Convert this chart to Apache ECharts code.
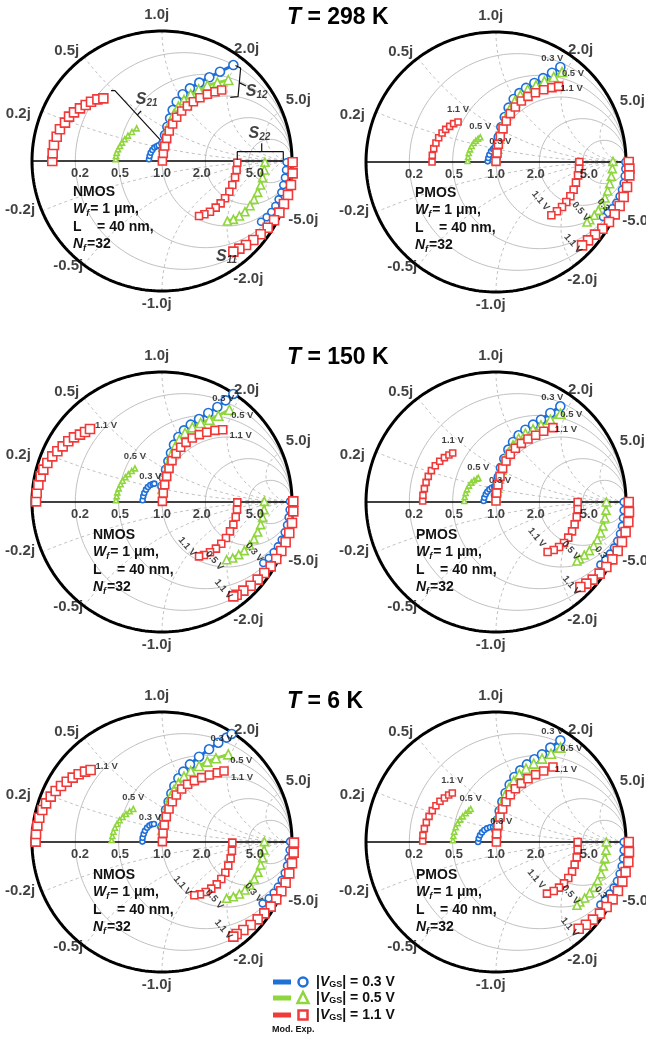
<!DOCTYPE html>
<html><head><meta charset="utf-8">
<script src="https://cdn.jsdelivr.net/npm/echarts@6/dist/echarts.min.js"></script>
<style>html,body{margin:0;padding:0;background:#fff}#c{width:646px;height:1041px}</style>
</head><body><div id="c"></div>
<script>
// ---------- DATA (reflection-plane coordinates [Re, Im]) ----------
const TEMPS = ['298', '150', '6'];
const VGS = ['0.3', '0.5', '1.1'];
const RES_TICKS = [0.2, 0.5, 1.0, 2.0, 5.0];
const REACT_TICKS = ['1.0j', '2.0j', '5.0j', '0.5j', '0.2j', '-0.2j', '-0.5j', '-1.0j', '-2.0j', '-5.0j'];

// NMOS 298 K
const N298_S21_11 = [[-0.844,0],[-0.841,0.059],[-0.831,0.123],[-0.810,0.187],[-0.785,0.244],[-0.746,0.295],[-0.715,0.341],[-0.677,0.374],[-0.631,0.405],[-0.587,0.431],[-0.546,0.456],[-0.497,0.474],[-0.451,0.482]];
const N298_S21_05 = [[-0.356,0.013],[-0.354,0.038],[-0.349,0.064],[-0.338,0.090],[-0.323,0.115],[-0.308,0.141],[-0.287,0.167],[-0.262,0.195],[-0.231,0.223],[-0.195,0.251]];
const N298_S21_03 = [[-0.100,0.013],[-0.095,0.038],[-0.087,0.064],[-0.074,0.085],[-0.059,0.103],[-0.041,0.113],[-0.026,0.121]];
const N298_S12_03 = [[0.010,0.136],[0.023,0.200],[0.041,0.264],[0.062,0.328],[0.082,0.392],[0.113,0.456],[0.159,0.513],[0.215,0.559],[0.287,0.603],[0.364,0.644],[0.446,0.687],[0.549,0.738]];
const N298_S12_05 = [[0.010,0.110],[0.026,0.174],[0.044,0.238],[0.067,0.303],[0.092,0.362],[0.126,0.418],[0.169,0.469],[0.221,0.513],[0.282,0.551],[0.349,0.582],[0.426,0.603],[0.510,0.623]];
const N298_S12_11 = [[0.003,0],[0.010,0.059],[0.021,0.115],[0.036,0.174],[0.056,0.231],[0.082,0.285],[0.113,0.336],[0.151,0.385],[0.195,0.423],[0.241,0.456],[0.292,0.487],[0.349,0.513],[0.408,0.533],[0.459,0.546]];
const N298_S22_11 = [[0.579,-0.013],[0.574,-0.069],[0.562,-0.126],[0.541,-0.185],[0.518,-0.236],[0.485,-0.287],[0.451,-0.326],[0.413,-0.359],[0.369,-0.390],[0.326,-0.410],[0.285,-0.423]];
const N298_S22_05 = [[0.792,-0.010],[0.787,-0.069],[0.774,-0.128],[0.759,-0.185],[0.736,-0.241],[0.708,-0.295],[0.677,-0.344],[0.638,-0.390],[0.595,-0.423],[0.549,-0.449],[0.503,-0.462]];
const N298_S22_03 = [[0.959,-0.010],[0.954,-0.069],[0.946,-0.128],[0.933,-0.185],[0.918,-0.241],[0.897,-0.295],[0.872,-0.346],[0.841,-0.392],[0.805,-0.433],[0.762,-0.467]];
const N298_S11_11 = [[1.005,-0.010],[1.005,-0.095],[0.992,-0.185],[0.969,-0.262],[0.938,-0.331],[0.903,-0.397],[0.862,-0.456],[0.813,-0.513],[0.759,-0.564],[0.703,-0.608],[0.646,-0.646],[0.595,-0.674],[0.549,-0.697]];

// PMOS 298 K
const P298_S21_11 = [[-0.492,0],[-0.490,0.051],[-0.479,0.103],[-0.462,0.146],[-0.441,0.187],[-0.415,0.223],[-0.387,0.251],[-0.356,0.274],[-0.326,0.295],[-0.292,0.308]];
const P298_S21_05 = [[-0.218,0.008],[-0.215,0.038],[-0.210,0.069],[-0.200,0.097],[-0.187,0.123],[-0.172,0.146],[-0.156,0.164],[-0.138,0.179],[-0.121,0.190]];
const P298_S21_03 = [[-0.064,0.005],[-0.059,0.031],[-0.051,0.056],[-0.038,0.082],[-0.023,0.100],[-0.013,0.110]];
const P298_S12_03 = [[0,0.038],[0.008,0.115],[0.021,0.192],[0.041,0.269],[0.067,0.346],[0.097,0.418],[0.136,0.485],[0.180,0.530],[0.231,0.570],[0.295,0.608],[0.362,0.645],[0.431,0.687],[0.495,0.731]];
const P298_S12_05 = [[0,0.026],[0.010,0.103],[0.026,0.179],[0.046,0.256],[0.074,0.333],[0.105,0.403],[0.144,0.467],[0.187,0.513],[0.244,0.556],[0.308,0.590],[0.372,0.621],[0.444,0.654],[0.508,0.692]];
const P298_S12_11 = [[0,0.005],[0.008,0.069],[0.018,0.136],[0.033,0.197],[0.054,0.256],[0.079,0.315],[0.110,0.372],[0.149,0.423],[0.195,0.469],[0.246,0.505],[0.303,0.533],[0.367,0.556],[0.431,0.572],[0.482,0.582]];
const P298_S22_11 = [[0.641,0],[0.638,-0.051],[0.631,-0.103],[0.615,-0.159],[0.597,-0.213],[0.572,-0.264],[0.541,-0.308],[0.508,-0.346],[0.469,-0.379],[0.426,-0.410]];
const P298_S22_05 = [[0.900,0.005],[0.895,-0.051],[0.887,-0.110],[0.874,-0.167],[0.859,-0.223],[0.838,-0.277],[0.815,-0.326],[0.787,-0.372],[0.756,-0.410],[0.721,-0.444],[0.700,-0.462]];
const P298_S22_03 = [[0.995,0],[0.995,-0.051],[0.990,-0.108],[0.982,-0.162],[0.969,-0.213],[0.951,-0.264],[0.926,-0.313],[0.895,-0.356],[0.859,-0.392],[0.823,-0.423]];
const P298_S11_11 = [[1.021,0],[1.026,-0.051],[1.026,-0.103],[1.008,-0.192],[0.982,-0.269],[0.951,-0.338],[0.913,-0.403],[0.869,-0.462],[0.818,-0.513],[0.762,-0.559],[0.708,-0.603],[0.662,-0.641]];

// NMOS 150 K
const N150_S21_11 = [[-0.969,0.005],[-0.964,0.069],[-0.951,0.133],[-0.933,0.197],[-0.913,0.249],[-0.882,0.300],[-0.844,0.351],[-0.805,0.390],[-0.764,0.428],[-0.721,0.467],[-0.677,0.497],[-0.631,0.518],[-0.592,0.538],[-0.554,0.562]];
const N150_S21_05 = [[-0.354,0.013],[-0.349,0.044],[-0.344,0.074],[-0.333,0.105],[-0.318,0.136],[-0.303,0.164],[-0.282,0.190],[-0.259,0.213],[-0.233,0.238],[-0.208,0.259]];
const N150_S21_03 = [[-0.149,0.013],[-0.144,0.044],[-0.136,0.069],[-0.123,0.095],[-0.108,0.115],[-0.090,0.131],[-0.072,0.138],[-0.059,0.141]];
const N150_S12_03 = [[0.003,0.121],[0.015,0.185],[0.031,0.249],[0.049,0.313],[0.069,0.377],[0.092,0.441],[0.126,0.500],[0.169,0.551],[0.221,0.595],[0.285,0.638],[0.356,0.685],[0.426,0.731],[0.490,0.782],[0.549,0.831]];
const N150_S12_05 = [[0.003,0.100],[0.015,0.167],[0.031,0.233],[0.049,0.300],[0.072,0.364],[0.100,0.423],[0.133,0.479],[0.177,0.531],[0.233,0.574],[0.297,0.608],[0.364,0.633],[0.433,0.664],[0.518,0.710]];
const N150_S12_11 = [[0.003,0.005],[0.010,0.069],[0.021,0.133],[0.036,0.197],[0.054,0.259],[0.077,0.318],[0.108,0.372],[0.144,0.421],[0.185,0.459],[0.233,0.492],[0.287,0.518],[0.344,0.536],[0.408,0.551],[0.467,0.556]];
const N150_S22_11 = [[0.579,-0.003],[0.577,-0.059],[0.567,-0.115],[0.549,-0.174],[0.523,-0.226],[0.492,-0.277],[0.456,-0.321],[0.415,-0.359],[0.369,-0.387],[0.323,-0.408],[0.285,-0.418]];
const N150_S22_05 = [[0.787,0.005],[0.785,-0.059],[0.774,-0.118],[0.759,-0.174],[0.736,-0.231],[0.708,-0.285],[0.674,-0.333],[0.633,-0.374],[0.590,-0.405],[0.544,-0.431],[0.497,-0.444]];
const N150_S22_03 = [[0.985,0.005],[0.982,-0.059],[0.974,-0.118],[0.962,-0.177],[0.944,-0.233],[0.921,-0.290],[0.892,-0.341],[0.859,-0.387],[0.821,-0.431],[0.779,-0.469]];
const N150_S11_11 = [[1.010,0.005],[1.010,-0.072],[1.0,-0.162],[0.979,-0.238],[0.951,-0.310],[0.918,-0.377],[0.879,-0.438],[0.836,-0.495],[0.787,-0.546],[0.736,-0.597],[0.682,-0.644],[0.626,-0.682],[0.574,-0.713],[0.549,-0.726]];

// PMOS 150 K
const P150_S21_11 = [[-0.564,0.008],[-0.562,0.051],[-0.551,0.103],[-0.538,0.151],[-0.521,0.197],[-0.497,0.241],[-0.467,0.279],[-0.433,0.313],[-0.397,0.341],[-0.362,0.362],[-0.333,0.377]];
const P150_S21_05 = [[-0.244,0.008],[-0.241,0.038],[-0.233,0.069],[-0.223,0.097],[-0.208,0.126],[-0.190,0.149],[-0.169,0.167],[-0.146,0.179],[-0.136,0.185]];
const P150_S21_03 = [[-0.095,0.008],[-0.090,0.033],[-0.079,0.059],[-0.067,0.079],[-0.051,0.097],[-0.033,0.110],[-0.015,0.118]];
const P150_S12_03 = [[0,0.051],[0.008,0.121],[0.021,0.192],[0.038,0.264],[0.064,0.333],[0.095,0.403],[0.131,0.462],[0.174,0.513],[0.226,0.556],[0.285,0.595],[0.346,0.633],[0.418,0.685],[0.495,0.736]];
const P150_S12_05 = [[0,0.038],[0.010,0.110],[0.023,0.179],[0.041,0.249],[0.064,0.315],[0.095,0.379],[0.131,0.436],[0.174,0.487],[0.226,0.526],[0.285,0.559],[0.346,0.590],[0.418,0.633],[0.495,0.679]];
const P150_S12_11 = [[0,0.008],[0.005,0.069],[0.015,0.133],[0.031,0.197],[0.051,0.259],[0.077,0.315],[0.110,0.367],[0.149,0.413],[0.195,0.451],[0.246,0.485],[0.305,0.513],[0.367,0.544],[0.438,0.572]];
const P150_S22_11 = [[0.628,0],[0.628,-0.056],[0.621,-0.115],[0.605,-0.172],[0.585,-0.226],[0.556,-0.274],[0.523,-0.315],[0.485,-0.346],[0.444,-0.369],[0.397,-0.385]];
const P150_S22_05 = [[0.849,0],[0.846,-0.064],[0.838,-0.123],[0.823,-0.185],[0.805,-0.238],[0.779,-0.290],[0.751,-0.336],[0.718,-0.374],[0.679,-0.408],[0.641,-0.436],[0.623,-0.454]];
const P150_S22_03 = [[0.982,0],[0.982,-0.064],[0.977,-0.123],[0.969,-0.185],[0.954,-0.244],[0.933,-0.300],[0.908,-0.351],[0.877,-0.397],[0.841,-0.444],[0.803,-0.482]];
const P150_S11_11 = [[1.021,0],[1.023,-0.077],[1.018,-0.154],[0.997,-0.231],[0.969,-0.308],[0.936,-0.377],[0.895,-0.441],[0.849,-0.500],[0.797,-0.551],[0.744,-0.597],[0.695,-0.628],[0.649,-0.654]];

// NMOS 6 K
const N6_S21_11 = [[-0.972,0.003],[-0.969,0.062],[-0.959,0.126],[-0.944,0.187],[-0.921,0.246],[-0.892,0.297],[-0.856,0.349],[-0.818,0.392],[-0.777,0.431],[-0.733,0.464],[-0.687,0.495],[-0.641,0.521],[-0.592,0.541],[-0.549,0.554]];
const N6_S21_05 = [[-0.387,0.015],[-0.382,0.046],[-0.374,0.079],[-0.362,0.110],[-0.346,0.138],[-0.326,0.167],[-0.303,0.192],[-0.277,0.215],[-0.249,0.236],[-0.221,0.254]];
const N6_S21_03 = [[-0.151,0.003],[-0.149,0.033],[-0.141,0.062],[-0.131,0.087],[-0.115,0.110],[-0.097,0.126],[-0.079,0.136],[-0.062,0.138]];
const N6_S12_03 = [[0.003,0.118],[0.015,0.182],[0.031,0.246],[0.051,0.310],[0.072,0.374],[0.095,0.431],[0.126,0.490],[0.164,0.541],[0.215,0.597],[0.285,0.656],[0.362,0.713],[0.433,0.764],[0.497,0.803],[0.536,0.831]];
const N6_S12_05 = [[0.003,0.092],[0.013,0.156],[0.026,0.221],[0.044,0.285],[0.064,0.344],[0.092,0.400],[0.126,0.451],[0.169,0.503],[0.221,0.546],[0.285,0.585],[0.349,0.618],[0.415,0.644],[0.510,0.674]];
const N6_S12_11 = [[0.003,0.003],[0.008,0.067],[0.018,0.131],[0.033,0.195],[0.054,0.254],[0.079,0.310],[0.110,0.362],[0.151,0.408],[0.197,0.444],[0.249,0.472],[0.305,0.495],[0.364,0.515],[0.426,0.533],[0.477,0.546]];
const N6_S22_11 = [[0.541,-0.005],[0.538,-0.067],[0.528,-0.126],[0.510,-0.182],[0.487,-0.236],[0.456,-0.285],[0.421,-0.326],[0.379,-0.359],[0.336,-0.385],[0.292,-0.403],[0.249,-0.410]];
const N6_S22_05 = [[0.787,0.003],[0.785,-0.062],[0.774,-0.121],[0.759,-0.177],[0.738,-0.233],[0.710,-0.285],[0.677,-0.331],[0.638,-0.369],[0.595,-0.400],[0.549,-0.421],[0.497,-0.433]];
const N6_S22_03 = [[0.985,0.003],[0.982,-0.062],[0.974,-0.123],[0.962,-0.182],[0.944,-0.238],[0.921,-0.292],[0.892,-0.344],[0.859,-0.390],[0.821,-0.433],[0.774,-0.472]];
const N6_S11_11 = [[1.015,-0.005],[1.013,-0.082],[1.0,-0.164],[0.979,-0.241],[0.951,-0.313],[0.918,-0.379],[0.879,-0.441],[0.836,-0.497],[0.787,-0.549],[0.736,-0.595],[0.682,-0.638],[0.626,-0.677],[0.574,-0.708],[0.549,-0.728]];

// PMOS 6 K
const P6_S21_11 = [[-0.564,0.008],[-0.562,0.051],[-0.551,0.103],[-0.536,0.151],[-0.515,0.197],[-0.490,0.241],[-0.462,0.279],[-0.431,0.313],[-0.397,0.338],[-0.364,0.362],[-0.336,0.377]];
const P6_S21_05 = [[-0.331,0.013],[-0.328,0.046],[-0.321,0.079],[-0.310,0.113],[-0.295,0.144],[-0.277,0.172],[-0.256,0.197],[-0.233,0.221],[-0.210,0.241],[-0.195,0.254]];
const P6_S21_03 = [[-0.138,0],[-0.133,0.026],[-0.123,0.051],[-0.108,0.074],[-0.090,0.092],[-0.069,0.105],[-0.046,0.113],[-0.023,0.115],[-0.005,0.115]];
const P6_S12_03 = [[0.003,0.090],[0.013,0.167],[0.028,0.238],[0.049,0.310],[0.074,0.377],[0.105,0.441],[0.141,0.500],[0.187,0.551],[0.238,0.597],[0.295,0.636],[0.354,0.674],[0.418,0.726],[0.495,0.782]];
const P6_S12_05 = [[0.003,0.077],[0.013,0.146],[0.026,0.218],[0.044,0.287],[0.069,0.354],[0.100,0.415],[0.136,0.469],[0.179,0.521],[0.231,0.564],[0.290,0.603],[0.354,0.641],[0.423,0.679],[0.495,0.726]];
const P6_S12_11 = [[0.003,0],[0.005,0.064],[0.015,0.128],[0.031,0.192],[0.051,0.254],[0.077,0.310],[0.110,0.364],[0.149,0.410],[0.195,0.451],[0.246,0.487],[0.305,0.518],[0.367,0.546],[0.438,0.577]];
const P6_S22_11 = [[0.628,0],[0.628,-0.059],[0.621,-0.118],[0.605,-0.174],[0.585,-0.228],[0.556,-0.277],[0.523,-0.318],[0.485,-0.351],[0.444,-0.377],[0.392,-0.397]];
const P6_S22_05 = [[0.849,0],[0.846,-0.064],[0.838,-0.126],[0.826,-0.185],[0.808,-0.244],[0.782,-0.297],[0.754,-0.349],[0.721,-0.392],[0.682,-0.431],[0.644,-0.462],[0.623,-0.487]];
const P6_S22_03 = [[0.982,0],[0.982,-0.064],[0.977,-0.126],[0.967,-0.185],[0.951,-0.244],[0.931,-0.300],[0.905,-0.351],[0.874,-0.397],[0.838,-0.444],[0.803,-0.482]];
const P6_S11_11 = [[1.021,0],[1.023,-0.077],[1.018,-0.154],[0.997,-0.231],[0.972,-0.305],[0.938,-0.377],[0.897,-0.441],[0.851,-0.500],[0.800,-0.551],[0.746,-0.597],[0.692,-0.636],[0.636,-0.667]];

// ---------- LAYOUT / STYLE ----------
const FONT = '"Liberation Sans", Arial, Helvetica, sans-serif';
const BLUE = '#1f6fd8', GREEN = '#8fd63c', RED = '#f03a3a', GRAY = '#b8b8b8';
const R = 130;
const VS = [
  {color: BLUE, symbol: 'circle'},
  {color: GREEN, symbol: 'triangle'},
  {color: RED, symbol: 'rect'}
];
const PANELS = [
  {dev:'NMOS', t:0, cx:162, cy:161, txt:[73,183], labels:false,
   d:{S21:[N298_S21_03,N298_S21_05,N298_S21_11], S12:[N298_S12_03,N298_S12_05,N298_S12_11], S22:[N298_S22_03,N298_S22_05,N298_S22_11], S11:[null,null,N298_S11_11]}},
  {dev:'PMOS', t:0, cx:496, cy:162, txt:[415,184], labels:true,
   d:{S21:[P298_S21_03,P298_S21_05,P298_S21_11], S12:[P298_S12_03,P298_S12_05,P298_S12_11], S22:[P298_S22_03,P298_S22_05,P298_S22_11], S11:[null,null,P298_S11_11]}},
  {dev:'NMOS', t:1, cx:162, cy:502, txt:[93,526], labels:true,
   d:{S21:[N150_S21_03,N150_S21_05,N150_S21_11], S12:[N150_S12_03,N150_S12_05,N150_S12_11], S22:[N150_S22_03,N150_S22_05,N150_S22_11], S11:[null,null,N150_S11_11]}},
  {dev:'PMOS', t:1, cx:496, cy:502, txt:[416,526], labels:true,
   d:{S21:[P150_S21_03,P150_S21_05,P150_S21_11], S12:[P150_S12_03,P150_S12_05,P150_S12_11], S22:[P150_S22_03,P150_S22_05,P150_S22_11], S11:[null,null,P150_S11_11]}},
  {dev:'NMOS', t:2, cx:162, cy:842, txt:[93,866], labels:true,
   d:{S21:[N6_S21_03,N6_S21_05,N6_S21_11], S12:[N6_S12_03,N6_S12_05,N6_S12_11], S22:[N6_S22_03,N6_S22_05,N6_S22_11], S11:[null,null,N6_S11_11]}},
  {dev:'PMOS', t:2, cx:496, cy:842, txt:[416,866], labels:true,
   d:{S21:[P6_S21_03,P6_S21_05,P6_S21_11], S12:[P6_S12_03,P6_S12_05,P6_S12_11], S22:[P6_S22_03,P6_S22_05,P6_S22_11], S11:[null,null,P6_S11_11]}}
];
// label offsets [dx, dy, rotate] per device / S-param / Vgs index
const LBL = {
  PMOS: {S21:[[6,-6,0],[0,-11,0],[0,-13,0]], S12:[[-8,-9,0],[11,1,0],[13,2,0]], S22:[[-9,-8,-50],[-12,-2,-50],[-18,-1,-50]], S11:[null,null,[-7,6,-50]]},
  NMOS: {S21:[[-4,-7,0],[0,-12,0],[16,-4,0]], S12:[[-10,4,0],[13,6,0],[18,6,0]], S22:[[-14,0,-50],[-7,10,-50],[-15,3,-50]], S11:[null,null,[-12,3,-50]]}
};
const SIZES = {S21:[5,5,9], S12:[9,9,8], S22:[7,8,7], S11:[null,null,9]};
const RIM_POS = [[-0.041,1.121],[0.651,0.864],[1.049,0.467],[-0.733,0.851],[-1.105,0.364],[-1.092,-0.379],[-0.721,-0.803],[-0.041,-1.097],[0.664,-0.905],[1.087,-0.456]];
const RES_NUDGE = [4.7, 1.3, 0, -3.6, 6.2];

// ---------- Smith grid geometry ----------
function rCircle(r){ const c=r/(1+r), rad=1/(1+r), p=[]; for(let i=0;i<=240;i++){const t=i/240*2*Math.PI; p.push([c+rad*Math.cos(t), rad*Math.sin(t)]);} return p; }
function xArc(x){ const p=[]; for(let i=0;i<=160;i++){ const th=i/160*Math.PI/2*0.9995; const r=Math.tan(th); const d=(r+1)*(r+1)+x*x; p.push([(r*r-1+x*x)/d, 2*x/d]); } p.push([1,0]); return p; }
const GRID_R = [0.2, 0.5, 1, 2, 5];
const GRID_X = [0.2, 0.5, 1, 2, 5];

const grids=[], xAxes=[], yAxes=[], series=[], graphics=[];
PANELS.forEach((p,i)=>{
  grids.push({left:p.cx-R, top:p.cy-R, width:2*R, height:2*R});
  xAxes.push({type:'value', gridIndex:i, min:-1, max:1, show:false});
  yAxes.push({type:'value', gridIndex:i, min:-1, max:1, show:false});
  const base = {xAxisIndex:i, yAxisIndex:i, animation:false, silent:true, clip:false};
  GRID_R.forEach(r=>series.push({...base, type:'line', showSymbol:false, data:rCircle(r), lineStyle:{color:GRAY, width:0.9}, z:1}));
  GRID_X.forEach(x=>[x,-x].forEach(xx=>series.push({...base, type:'line', showSymbol:false, data:xArc(xx), lineStyle:{color:GRAY, width:0.9, type:[3,3]}, z:1})));
  series.push({...base, type:'line', showSymbol:false, data:rCircle(0), lineStyle:{color:'#000', width:3}, z:2});
  series.push({...base, type:'line', showSymbol:false, data:[[-1,0],[1,0]], lineStyle:{color:'#000', width:1.6}, z:2});
  // rim labels
  series.push({...base, type:'scatter', symbolSize:1, itemStyle:{color:'transparent'}, z:6,
    data: REACT_TICKS.map((t,k)=>({value:RIM_POS[k], label:{formatter:t}})),
    label:{show:true, position:'inside', color:'#111', fontFamily:FONT, fontWeight:'bold', fontSize:15}});
  series.push({...base, type:'scatter', symbolSize:1, itemStyle:{color:'transparent'}, z:6,
    data: RES_TICKS.map((r,k)=>({value:[(r-1)/(r+1), 0], label:{formatter:r.toFixed(1), offset:[RES_NUDGE[k], 12]}})),
    label:{show:true, position:'inside', color:'#111', fontFamily:FONT, fontWeight:'bold', fontSize:13}});
  // traces
  const ann=[];
  ['S21','S12','S22','S11'].forEach(sp=>{
    p.d[sp].forEach((arr,v)=>{
      if(!arr) return;
      let size = SIZES[sp][v];
      if(sp==='S21' && v===2 && p.dev==='PMOS') size = 6;
      series.push({...base, type:'line', data:arr, symbol:VS[v].symbol, symbolSize:size, showSymbol:true, showAllSymbol:true,
        lineStyle:{color:VS[v].color, width:(sp==='S21' && v<2)?2:3}, itemStyle:{color:'#fff', borderColor:VS[v].color, borderWidth:1.6},
        z:4});
      if(p.labels){
        const o = LBL[p.dev][sp][v];
        let txt = VGS[v]+' V';
        if(p.dev==='PMOS' && sp==='S22' && v===0) txt='0.3';
        ann.push({value:arr[arr.length-1], label:{formatter:txt, offset:[o[0],o[1]], rotate:o[2]}});
      }
    });
  });
  if(ann.length) series.push({...base, type:'scatter', symbolSize:1, itemStyle:{color:'transparent'}, z:7, data:ann,
    label:{show:true, position:'inside', color:'#111', fontFamily:FONT, fontWeight:'bold', fontSize:9.5}});
  // device text block
  graphics.push({type:'text', x:p.txt[0], y:p.txt[1], z:10, style:{
    text:'{b|'+p.dev+'}\n{i|W}{s|f}{b|= 1 μm,}\n{b|L    = 40 nm,}\n{i|N}{s|f}{b|=32}',
    fill:'#111', font:'bold 14px '+FONT,
    rich:{b:{fontSize:14, fontWeight:'bold', fontFamily:FONT, lineHeight:17.5, fill:'#111'},
          i:{fontSize:14, fontWeight:'bold', fontStyle:'italic', fontFamily:FONT, lineHeight:17.5, fill:'#111'},
          s:{fontSize:9, fontWeight:'bold', fontStyle:'italic', fontFamily:FONT, lineHeight:17.5, verticalAlign:'bottom', fill:'#111', padding:[4,1,0,0]}}}});
});

// chart-1 S-parameter brackets
(function(){
  const base={xAxisIndex:0, yAxisIndex:0, animation:false, silent:true, clip:false, type:'line', showSymbol:false, lineStyle:{color:'#111', width:1.2}, z:5};
  series.push({...base, data:[[-0.392,0.541],[-0.362,0.541],[-0.015,0.165]]});
  series.push({...base, data:[[-0.190,0.354],[-0.160,0.385]]});
  series.push({...base, data:[[0.565,0.735],[0.605,0.715],[0.585,0.495],[0.525,0.490]]});
  series.push({...base, data:[[0.594,0.603],[0.646,0.577]]});
  series.push({...base, data:[[0.579,0.010],[0.579,0.072],[0.933,0.072],[0.933,0.010]]});
  series.push({...base, data:[[0.767,0.072],[0.767,0.136]]});
  series.push({xAxisIndex:0, yAxisIndex:0, animation:false, silent:true, clip:false, type:'scatter', symbolSize:1, itemStyle:{color:'transparent'}, z:8,
    data:[{value:[-0.118,0.469], label:{formatter:'{a|S}{b|21}'}}, {value:[0.728,0.536], label:{formatter:'{a|S}{b|12}'}},
          {value:[0.749,0.213], label:{formatter:'{a|S}{b|22}'}}, {value:[0.497,-0.736], label:{formatter:'{a|S}{b|11}'}}],
    label:{show:true, position:'inside', color:'#111', rich:{a:{fontSize:16, fontWeight:'bold', fontStyle:'italic', fontFamily:FONT, color:'#111'},
      b:{fontSize:10, fontWeight:'bold', fontStyle:'italic', fontFamily:FONT, color:'#111', verticalAlign:'bottom', padding:[7,0,0,0]}}}});
})();

// titles
const TITLE_Y = [18, 358, 702];
TEMPS.forEach((t,k)=>graphics.push({type:'text', x:287, y:TITLE_Y[k], z:10, style:{text:'{i|T}{n| = '+t+' K}', verticalAlign:'middle',
  rich:{i:{fontSize:23, fontWeight:'bold', fontStyle:'italic', fontFamily:FONT, fill:'#000'}, n:{fontSize:23, fontWeight:'bold', fontFamily:FONT, fill:'#000'}}}}));

// legend
const LEG_Y = [982, 998, 1015];
VGS.forEach((v,k)=>{
  const y = LEG_Y[k], c = VS[k].color;
  graphics.push({type:'rect', shape:{x:273, y:y-2.5, width:18, height:5}, style:{fill:c}});
  if(k===0) graphics.push({type:'circle', shape:{cx:303, cy:y, r:4.5}, style:{fill:'#fff', stroke:c, lineWidth:2.5}});
  if(k===1) graphics.push({type:'polygon', shape:{points:[[303,y-6],[297.5,y+5],[308.5,y+5]]}, style:{fill:'#fff', stroke:c, lineWidth:2.5}});
  if(k===2) graphics.push({type:'rect', shape:{x:298.5, y:y-4.5, width:9, height:9}, style:{fill:'#fff', stroke:c, lineWidth:2.5}});
  graphics.push({type:'text', x:316, y:y, style:{text:'{n||}{i|V}{s|GS}{n|| = '+v+' V}', verticalAlign:'middle',
    rich:{n:{fontSize:14, fontWeight:'bold', fontFamily:FONT, fill:'#111'}, i:{fontSize:14, fontWeight:'bold', fontStyle:'italic', fontFamily:FONT, fill:'#111'},
          s:{fontSize:9, fontWeight:'bold', fontFamily:FONT, fill:'#111', verticalAlign:'bottom', padding:[5,0,0,0]}}}});
});
graphics.push({type:'text', x:272, y:1030, style:{text:'Mod. Exp.', verticalAlign:'middle', font:'bold 9px '+FONT, fill:'#111'}});

const chart = echarts.init(document.getElementById('c'), null, {renderer:'canvas'});
chart.setOption({backgroundColor:'#fff', animation:false, grid:grids, xAxis:xAxes, yAxis:yAxes, series:series, graphic:graphics});
</script></body></html>
